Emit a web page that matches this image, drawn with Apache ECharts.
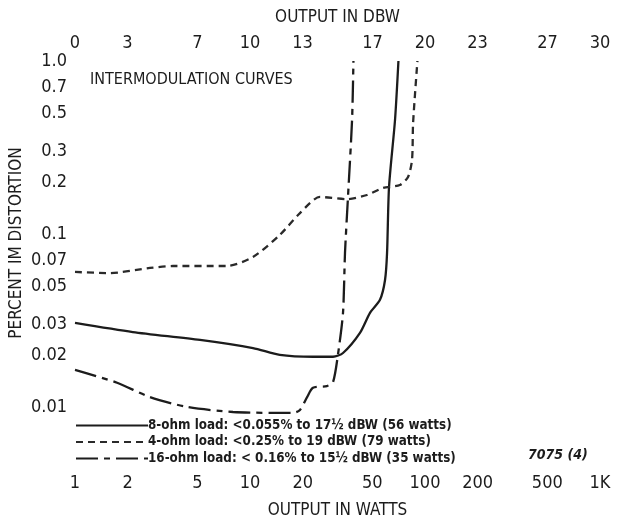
<!DOCTYPE html>
<html>
<head>
<meta charset="utf-8">
<script src="https://cdn.jsdelivr.net/npm/echarts@6/dist/echarts.min.js"></script>
<style>html,body{margin:0;padding:0;background:#fff}#c{width:628px;height:518px}</style>
</head>
<body>
<div id="c"></div>
<script>
// ---- data ----
const ohm8Watts = [1, 2.14, 5.18, 10.4, 14.8, 22.9, 29.8, 34.0, 42.5, 48.5, 55.3, 59.1, 60.7, 62.3, 67.4, 70.5];
const ohm8Pct   = [0.0306, 0.0271, 0.0244, 0.0219, 0.0200, 0.0195, 0.0195, 0.0205, 0.0268, 0.035, 0.0416, 0.0542, 0.0777, 0.187, 0.456, 1.0];

const ohm4Watts = [1, 1.58, 2.68, 3.63, 7.39, 10.4, 14.8, 19.3, 25.1, 35.8, 46.6, 57.5, 71.9, 80, 84.3, 85.5, 90.5];
const ohm4Pct   = [0.0603, 0.0594, 0.0636, 0.0653, 0.0653, 0.0736, 0.0987, 0.132, 0.1637, 0.159, 0.168, 0.1845, 0.192, 0.2136, 0.268, 0.438, 1.0];

const ohm16Watts = [1, 1.74, 2.68, 4.37, 8.0, 17.6, 19.3, 21.2, 22.9, 27.5, 29.8, 31.8, 34.0, 34.9, 36.3, 38.3, 39.0];
const ohm16Pct   = [0.0164, 0.0138, 0.0114, 0.0100, 0.00935, 0.00923, 0.0096, 0.0114, 0.0129, 0.0132, 0.0139, 0.020, 0.035, 0.0777, 0.1637, 0.456, 1.0];

const seriesNames = [
  '8-ohm load: <0.055% to 17½ dBW (56 watts)',
  '4-ohm load: <0.25% to 19 dBW (79 watts)',
  '16-ohm load: < 0.16% to 15½ dBW (35 watts)'
];

const yTickValues = [1.0, 0.7, 0.5, 0.3, 0.2, 0.1, 0.07, 0.05, 0.03, 0.02, 0.01];
const yTickLabels = ['1.0', '0.7', '0.5', '0.3', '0.2', '0.1', '0.07', '0.05', '0.03', '0.02', '0.01'];
const wattTicks = [1, 2, 5, 10, 20, 50, 100, 200, 500, 1000];
const wattLabels = ['1', '2', '5', '10', '20', '50', '100', '200', '500', '1K'];
const dbwTicks = [0, 3, 7, 10, 13, 17, 20, 23, 27, 30];

// ---- chart ----
const FONT = '"Liberation Sans Narrow", "DejaVu Sans Condensed", "Arial Narrow", sans-serif';
const zip = (a, b) => a.map((v, i) => [v, b[i]]);
function nearestLabel(v, vals, labels) {
  let best = 0, bd = Infinity;
  vals.forEach((t, i) => { const d = Math.abs(Math.log(v) - Math.log(t)); if (d < bd) { bd = d; best = i; } });
  return labels[best];
}

const chart = echarts.init(document.getElementById('c'), null, { renderer: 'canvas' });
const ink = '#1c1c1c';
const option = {
  backgroundColor: '#ffffff',
  animation: false,
  textStyle: { fontFamily: FONT },
  title: [
    { text: 'INTERMODULATION CURVES', left: 90, top: 72, padding: 0,
      textStyle: { fontFamily: FONT, fontSize: 16, fontWeight: 'normal', color: ink } },
    { text: '7075 (4)', left: 528, top: 448, padding: 0,
      textStyle: { fontFamily: FONT, fontSize: 14, fontWeight: 'bold', fontStyle: 'italic', color: ink } }
  ],
  grid: { left: 75, right: 28, top: 61, bottom: 59, containLabel: false, outerBoundsMode: 'none' },
  legend: {
    orient: 'vertical', left: 70, top: 414,
    itemWidth: 72, itemHeight: 14, itemGap: 3.5,
    itemStyle: { color: 'rgba(0,0,0,0)', borderWidth: 0, opacity: 0 },
    textStyle: { fontFamily: FONT, fontSize: 13.3, fontWeight: 'bold', color: ink, padding: [0, 0, 0, -5] },
    data: seriesNames
  },
  xAxis: [
    {
      type: 'log', logBase: 10, min: 1, max: 1000, position: 'bottom',
      name: 'OUTPUT IN WATTS', nameLocation: 'middle', nameGap: 43,
      nameTextStyle: { fontFamily: FONT, fontSize: 17, color: ink },
      axisLine: { show: false }, axisTick: { show: false }, splitLine: { show: false },
      axisLabel: { customValues: wattTicks, margin: 15, fontFamily: FONT, fontSize: 18, color: ink,
        formatter: v => nearestLabel(v, wattTicks, wattLabels) }
    },
    {
      type: 'value', min: 0, max: 30, position: 'top',
      name: 'OUTPUT IN DBW', nameLocation: 'middle', nameGap: 35,
      nameTextStyle: { fontFamily: FONT, fontSize: 17, color: ink },
      axisLine: { show: false }, axisTick: { show: false }, splitLine: { show: false },
      axisLabel: { customValues: dbwTicks, margin: 9, fontFamily: FONT, fontSize: 18, color: ink }
    }
  ],
  yAxis: {
    type: 'log', logBase: 10, min: 0.005, max: 1.0,
    name: 'PERCENT IM DISTORTION', nameLocation: 'middle', nameGap: 50, nameMoveOverlap: false,
    nameTextStyle: { fontFamily: FONT, fontSize: 17, color: ink, padding: [0, 0, 0, 34] },
    axisLine: { show: false }, axisTick: { show: false }, splitLine: { show: false },
    axisLabel: { customValues: yTickValues, margin: 8, fontFamily: FONT, fontSize: 18, color: ink,
      formatter: v => nearestLabel(v, yTickValues, yTickLabels) }
  },
  series: [
    { name: seriesNames[0], type: 'line', xAxisIndex: 0, data: zip(ohm8Watts, ohm8Pct),
      symbol: 'none', smooth: 0.25, color: ink,
      lineStyle: { color: ink, width: 2.3, type: 'solid' } },
    { name: seriesNames[1], type: 'line', xAxisIndex: 0, data: zip(ohm4Watts, ohm4Pct),
      symbol: 'none', smooth: 0.25, color: '#2a2a2a',
      lineStyle: { color: '#2a2a2a', width: 2.3, type: [7, 5] } },
    { name: seriesNames[2], type: 'line', xAxisIndex: 0, data: zip(ohm16Watts, ohm16Pct),
      symbol: 'none', smooth: 0.25, color: ink,
      lineStyle: { color: ink, width: 2.3, type: [22, 6, 6, 6] } }
  ]
};
chart.setOption(option);
</script>
</body>
</html>
